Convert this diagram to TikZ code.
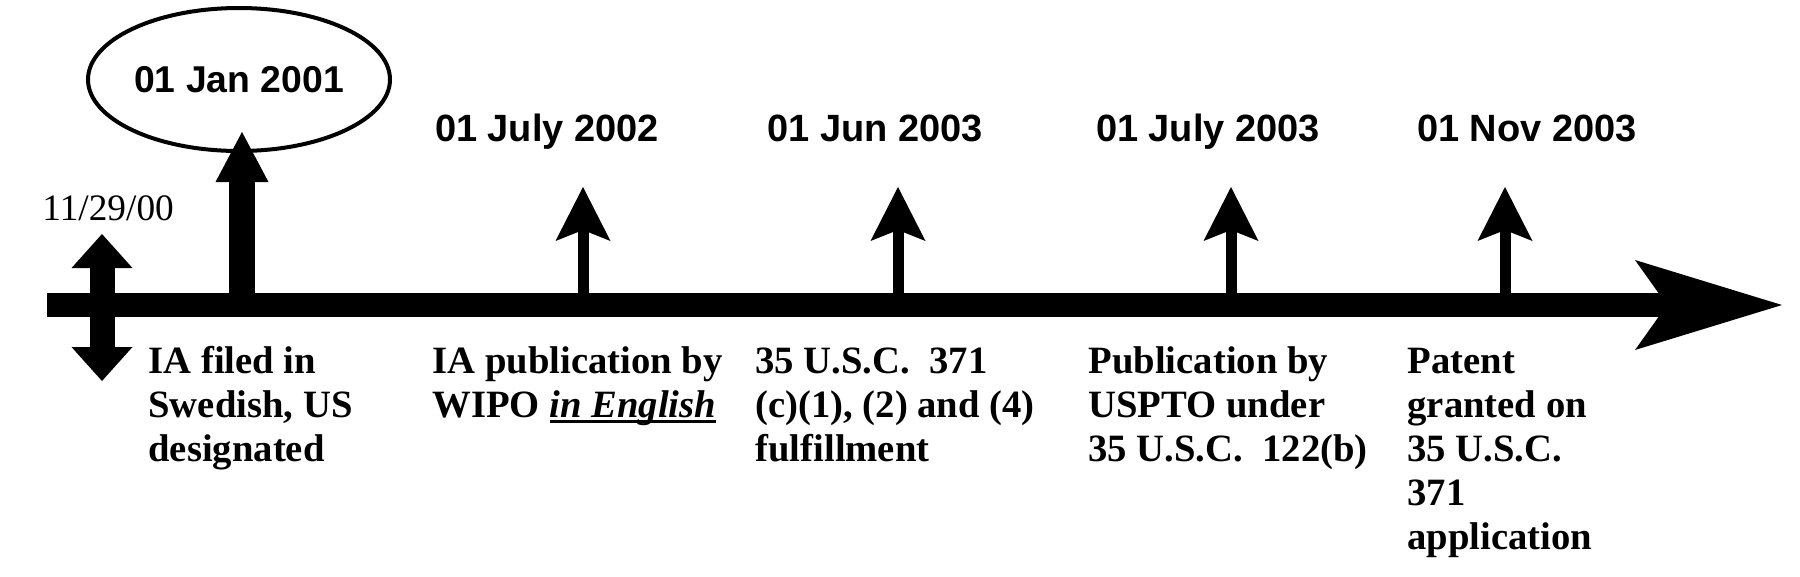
\documentclass[tikz,border=0pt]{standalone}
\usepackage{fontspec}
\setmainfont{Liberation Serif}
\newfontfamily\datefont{Liberation Sans}
\usetikzlibrary{arrows.meta,shapes.geometric}

% underline that cuts through the descenders, as in the reference
\newcommand{\lowrule}[1]{\setbox0\hbox{#1}\rlap{\rule[-4.5pt]{\wd0}{2.25pt}}\box0}

\tikzset{every picture/.style={line width=0.75pt}}
\tikzset{
  datelbl/.style={font=\datefont\bfseries\fontsize{28.5}{30}\selectfont, inner sep=0pt, anchor=base},
  notelbl/.style={font=\bfseries\fontsize{29}{33}\selectfont, inner sep=0pt, anchor=base west, align=left},
  timeline/.style={line width=18pt, -{Stealth[length=110.25pt, width=67.5pt, inset=24pt, line width=0pt]}},
  tickarrow/.style={line width=8.25pt, -{Stealth[length=40.5pt, width=41.25pt, inset=8.25pt, line width=0pt]}},
  bigarrow/.style={line width=19.5pt, -{Triangle[length=37.5pt, width=39.75pt, line width=0pt]}},
  dblarrow/.style={line width=18.75pt, {Triangle[length=25.5pt, width=45.75pt, line width=0pt]}-{Triangle[length=25.5pt, width=45.75pt, line width=0pt]}}
}

\begin{document}
\begin{tikzpicture}[x=0.75pt,y=0.75pt,yscale=-1,xscale=1]
\useasboundingbox (0,0) rectangle (1800,576);

%Coordinates on the time line
\coordinate (start) at (47,305);
\coordinate (end) at (1782,305);
\coordinate (s0) at (102,234);
\coordinate (s1) at (102,381);
\coordinate (t0) at (242,305);
\coordinate (p0) at (242,132);
\coordinate (t1) at (583,305);
\coordinate (p1) at (583,187);
\coordinate (t2) at (898,305);
\coordinate (p2) at (898,187);
\coordinate (t3) at (1231,305);
\coordinate (p3) at (1231,187);
\coordinate (t4) at (1505,305);
\coordinate (p4) at (1505,187);

%Shape: Ellipse
\node (jan) [draw, ellipse, line width=3pt, inner sep=0pt, minimum width=226.5pt, minimum height=107.25pt, font=\datefont\bfseries\fontsize{28}{30}\selectfont] at (239,79.5) {01 Jan 2001};

%Time line
\draw [timeline] (start) -- (end);
%Double arrow
\draw [dblarrow] (s0) -- (s1);
%Up arrows
\draw [bigarrow] (t0) -- (p0);
\foreach \i in {1,...,4}
  \draw [tickarrow] (t\i) -- (p\i);

% Text Node
\draw (42,220) node (filed) [anchor=base west, inner sep=0pt, font=\fontsize{28}{30}\selectfont] {11/29/00};
% Text Node
\draw (547,141) node (d1) [datelbl] {01 July 2002};
% Text Node
\draw (875,141) node (d2) [datelbl] {01 Jun 2003};
% Text Node
\draw (1208,141) node (d3) [datelbl] {01 July 2003};
% Text Node
\draw (1527,141) node (d4) [datelbl] {01 Nov 2003};

% Text Node (base = last line)
\draw (148,461) node (l0) [notelbl] {IA filed in\\Swedish, US\\designated};
% Text Node
\draw (432,417) node (l1) [notelbl] {IA publication by\\WIPO \lowrule{\textit{in English}}};
% Text Node
\draw (755,461) node (l2) [notelbl] {35 U.S.C.\ \ 371\\(c)(1), (2) and (4)\\fulfillment};
% Text Node
\draw (1088,461) node (l3) [notelbl] {Publication by\\USPTO under\\35 U.S.C.\ \ 122(b)};
% Text Node
\draw (1407,549) node (l4) [notelbl] {Patent\\granted on\\35 U.S.C.\\371\\application};

\end{tikzpicture}
\end{document}
